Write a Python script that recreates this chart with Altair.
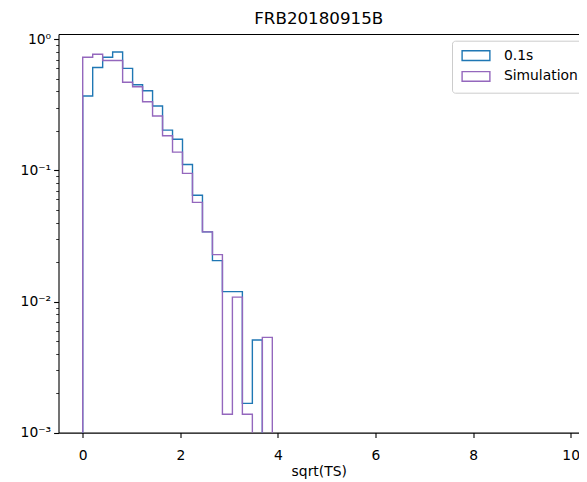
import altair as alt
import pandas as pd

# Histogram bin edges (sqrt(TS)), shared by both series
edges = [0.0, 0.2045, 0.409, 0.6135, 0.818, 1.0225, 1.227, 1.4315, 1.636, 1.8405,
         2.045, 2.2495, 2.454, 2.6585, 2.863, 3.0675, 3.272, 3.4765, 3.681, 3.8855]

# Normalised counts per bin
obs_vals = [0.37, 0.61, 0.73, 0.80, 0.60, 0.45, 0.405, 0.31, 0.203, 0.173,
            0.111, 0.0646, 0.034, 0.0205, 0.0119, 0.0119, 0.00167, 0.00508, 0.0]
sim_vals = [0.73, 0.77, 0.69, 0.69, 0.47, 0.435, 0.334, 0.26, 0.184, 0.138,
            0.095, 0.057, 0.034, 0.0228, 0.00138, 0.0108, 0.00138, 0.0, 0.00533]

series_names = ["0.1s", "Simulation"]
series_colors = ["#1f77b4", "#9467bd"]

x_ticks = [0, 2, 4, 6, 8, 10]
y_ticks = [0.001, 0.002, 0.003, 0.004, 0.005, 0.006, 0.007, 0.008, 0.009,
           0.01, 0.02, 0.03, 0.04, 0.05, 0.06, 0.07, 0.08, 0.09,
           0.1, 0.2, 0.3, 0.4, 0.5, 0.6, 0.7, 0.8, 0.9, 1.0]

FLOOR = 1e-6  # stands in for empty bins (below the log axis, clipped)

rows = []
for name, vals in zip(series_names, [obs_vals, sim_vals]):
    pts = [(edges[0], FLOOR)]
    for k, v in enumerate(vals):
        pts.append((edges[k], v if v > 0 else FLOOR))
    last = vals[-1] if vals[-1] > 0 else FLOOR
    pts.append((edges[-1], last))
    pts.append((edges[-1], FLOOR))
    for i, (xv, yv) in enumerate(pts):
        rows.append({"series": name, "x": xv, "y": yv, "i": i})
df = pd.DataFrame(rows)

FONT = "DejaVu Sans"
major_test = "datum.value == 1 || datum.value == 0.1 || datum.value == 0.01 || datum.value == 0.001"
label_expr = ("datum.value == 1 ? '10⁰' : datum.value == 0.1 ? '10⁻¹' : "
              "datum.value == 0.01 ? '10⁻²' : datum.value == 0.001 ? '10⁻³' : ''")

x_scale = alt.Scale(domain=[-0.496, 10.17], nice=False, zero=False)

lines = alt.Chart(df).mark_line(
    interpolate="step-after", clip=True, strokeWidth=1.4
).encode(
    x=alt.X("x:Q", scale=x_scale,
            axis=alt.Axis(values=x_ticks, title="sqrt(TS)", format="d",
                          tickSize=4.9, labelPadding=11, titlePadding=2,
                          labelFlush=False)),
    y=alt.Y("y:Q",
            scale=alt.Scale(type="log", domain=[0.001, 1.098], nice=False),
            axis=alt.Axis(values=y_ticks, labelExpr=label_expr, title=None,
                          labelOverlap=False, labelFlush=False, labelPadding=3,
                          tickSize={"condition": {"test": major_test, "value": 4.9}, "value": 2.8},
                          tickWidth={"condition": {"test": major_test, "value": 1.1}, "value": 0.8})),
    color=alt.Color("series:N",
                    scale=alt.Scale(domain=series_names, range=series_colors),
                    legend=alt.Legend(title=None, orient="none", legendX=393.5, legendY=6.7,
                                      symbolType="M-1,-1H4.732V1H-1Z", symbolSize=94,
                                      symbolStrokeWidth=1.4, symbolFillColor="transparent",
                                      labelFontSize=13.9, labelFont=FONT, labelColor="black",
                                      labelOffset=30, rowPadding=4.8, padding=8,
                                      strokeColor="#cccccc", fillColor="rgba(255,255,255,0.8)",
                                      cornerRadius=3, labelLimit=300)),
    order=alt.Order("i:Q"),
)

# invisible layer that carries the top spine (axis line only)
top_spine = alt.Chart(df).mark_point(opacity=0).encode(
    x=alt.X("x:Q", scale=x_scale,
            axis=alt.Axis(orient="top", labels=False, ticks=False, title=None,
                          domainColor="black", domainWidth=1.1)),
)

chart = alt.layer(lines, top_spine).resolve_axis(x="independent").properties(
    width=520.5,
    height=398.6,
    title=alt.TitleParams("FRB20180915B", font=FONT, fontSize=16.7, fontWeight="normal",
                          color="black", anchor="middle", baseline="alphabetic",
                          offset=1.5, dy=9.5),
    autosize=alt.AutoSizeParams(type="none"),
    padding={"left": 50.5, "top": 26, "right": 0, "bottom": 49},
).configure_view(
    stroke=None
).configure_axis(
    grid=False, domainColor="black", domainWidth=1.1, tickColor="black", tickWidth=1.1,
    labelFont=FONT, labelFontSize=13.9, labelColor="black",
    titleFont=FONT, titleFontSize=13.9, titleFontWeight="normal", titleColor="black",
)

chart.save("out.html", embed_options={"renderer": "svg", "actions": False})
